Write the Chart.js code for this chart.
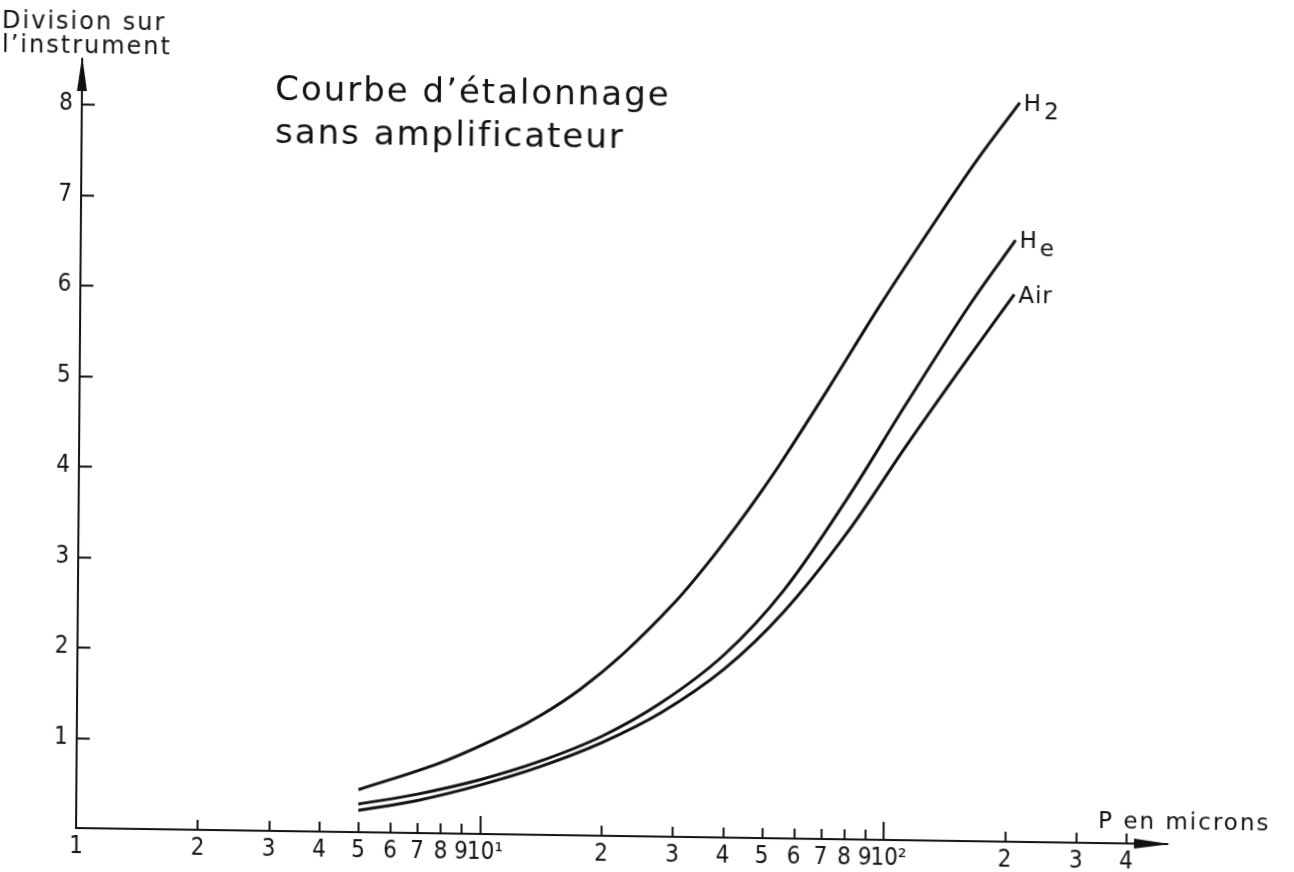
<!DOCTYPE html>
<html>
<head>
<meta charset="utf-8">
<script src="https://cdn.jsdelivr.net/npm/chart.js@4.4.1/dist/chart.umd.min.js"></script>
<style>
  html, body { margin: 0; padding: 0; background: #ffffff; }
  #wrap { width: 1294px; height: 872px; position: relative; overflow: hidden; background: #fff; }
  /* the scanned original is slightly skewed: reproduce that skew */
  #c { position: absolute; left: -20px; top: -20px;
       transform-origin: 96px 848px;
       transform: matrix(1, 0.0147, -0.008, 1, 0, 0); }
</style>
</head>
<body>
<div id="wrap"><canvas id="c" width="1334" height="912"></canvas></div>
<script>
// ---- data ----
const h2X  = [5, 7.97, 11.68, 14.09, 17.68, 22.56, 29.95, 36.3, 43.7, 48.9, 54.8, 71.4, 96.2, 129.7, 165, 210.7];
const h2Y  = [0.47, 0.78, 1.12, 1.32, 1.62, 2.02, 2.58, 3.03, 3.51, 3.82, 4.15, 4.97, 5.92, 6.82, 7.52, 8.17];
const heX  = [5, 7, 10, 14, 20, 28, 40, 56, 80, 112, 160, 207];
const heY  = [0.31, 0.43, 0.60, 0.81, 1.10, 1.48, 2.02, 2.74, 3.76, 4.83, 5.93, 6.65];
const airX = [5, 7, 10, 14, 20, 28, 40, 56, 80, 112, 160, 206];
const airY = [0.24, 0.36, 0.54, 0.75, 1.03, 1.37, 1.86, 2.50, 3.38, 4.36, 5.36, 6.05];

const seriesNames = ['H2', 'He', 'Air'];
const xTicks = [1, 2, 3, 4, 5, 6, 7, 8, 9, 10, 20, 30, 40, 50, 60, 70, 80, 90, 100, 200, 300, 400];
const xTickLabels = ['1', '2', '3', '4', '5', '6', '7', '8', '9', '\u200210\u00B9', '2', '3', '4', '5', '6', '7', '8', '9', '\u200210\u00B2', '2', '3', '4'];
const decadeTicks = [10, 100];
const yTicks = [1, 2, 3, 4, 5, 6, 7, 8];

const titleLines = ['Courbe d\u2019\u00E9talonnage', 'sans amplificateur'];
const yAxisTitle = ['Division sur', 'l\u2019instrument'];
const xAxisTitle = 'P en microns';

// ---- helpers ----
const INK = '#111111';
const OFF = 20;                    // canvas is larger than the page by OFF on each side
const SK_X = 0.008, SK_Y = 0.0147, OX = 76, OY = 828;
function place(tx, ty) {           // page position -> canvas position (undo the skew)
  const X = tx - SK_X * (OY - ty);
  const Y = ty - SK_Y * (X - OX);
  return [X + OFF, Y + OFF];
}
const toPts = (xs, ys) => xs.map((x, i) => ({ x: x, y: ys[i] }));
const tickFont = { family: "'Liberation Sans Narrow', 'DejaVu Sans Condensed', 'DejaVu Sans', sans-serif", size: 24 };

const lineDs = (label, xs, ys) => ({
  label: label,
  data: toPts(xs, ys),
  borderColor: INK,
  borderWidth: 3,
  pointRadius: 0,
  pointHoverRadius: 0,
  fill: false,
  cubicInterpolationMode: 'default',
  tension: 0.35
});

const decor = {
  id: 'decor',
  afterDraw(chart) {
    const ctx = chart.ctx;
    const { left, right, top, bottom } = chart.chartArea;
    const xs = chart.scales.x, ys = chart.scales.y;
    ctx.save();
    ctx.strokeStyle = INK;
    ctx.fillStyle = INK;
    ctx.lineWidth = 2;
    // inner tick marks on the y axis
    yTicks.forEach(v => {
      const py = Math.round(ys.getPixelForValue(v)) + 0.5;
      ctx.beginPath(); ctx.moveTo(left, py); ctx.lineTo(left + 13, py); ctx.stroke();
    });
    // inner tick marks on the x axis
    xTicks.forEach(v => {
      if (v === 1) return;
      const px = Math.round(xs.getPixelForValue(v)) + 0.5;
      const len = decadeTicks.includes(v) ? 18 : 10;
      ctx.beginPath(); ctx.moveTo(px, bottom); ctx.lineTo(px, bottom - len); ctx.stroke();
    });
    // extend x axis to the arrow and draw arrow heads
    ctx.beginPath(); ctx.moveTo(right, bottom); ctx.lineTo(right + 8, bottom); ctx.stroke();
    ctx.beginPath();
    ctx.moveTo(right + 10, bottom);
    ctx.lineTo(right - 26, bottom - 5);
    ctx.lineTo(right - 26, bottom + 5);
    ctx.closePath(); ctx.fill();
    ctx.beginPath();
    ctx.moveTo(left, top - 3);
    ctx.lineTo(left - 5, top + 32);
    ctx.lineTo(left + 5, top + 32);
    ctx.closePath(); ctx.fill();

    // title
    ctx.textBaseline = 'alphabetic';
    ctx.textAlign = 'left';
    ctx.font = "34px 'DejaVu Sans', sans-serif";
    ctx.letterSpacing = '2px';
    let p = place(275, 100); ctx.fillText(titleLines[0], p[0], p[1]);
    p = place(275, 143); ctx.fillText(titleLines[1], p[0], p[1]);

    // axis titles
    ctx.font = "24px 'DejaVu Sans', sans-serif";
    ctx.letterSpacing = '2px';
    p = place(2, 28); ctx.fillText(yAxisTitle[0], p[0], p[1]);
    p = place(2, 52); ctx.fillText(yAxisTitle[1], p[0], p[1]);
    ctx.font = "23px 'DejaVu Sans', sans-serif";
    p = place(1098, 828); ctx.fillText(xAxisTitle, p[0], p[1]);

    // curve labels at the end of each curve
    ctx.letterSpacing = '0px';
    chart.data.datasets.forEach((ds, i) => {
      const meta = chart.getDatasetMeta(i);
      const last = meta.data[meta.data.length - 1];
      const lx = last.x + 4, ly = last.y + 8;
      ctx.font = "23px 'DejaVu Sans', sans-serif";
      const name = seriesNames[i];
      if (name === 'H2' || name === 'He') {
        ctx.fillText('H', lx, ly);
        const w = ctx.measureText('H').width;
        ctx.fillText(name.charAt(1), lx + w + 3, ly + 8);
      } else {
        ctx.letterSpacing = '1px';
        ctx.fillText(name, lx, ly);
        ctx.letterSpacing = '0px';
      }
    });
    ctx.restore();
  }
};

new Chart(document.getElementById('c'), {
  type: 'line',
  data: {
    datasets: [
      lineDs('H2', h2X, h2Y),
      lineDs('He', heX, heY),
      lineDs('Air', airX, airY)
    ]
  },
  options: {
    responsive: false,
    animation: false,
    events: [],
    layout: { padding: { left: 0, right: 154, top: 59 + OFF, bottom: 0 } },
    plugins: { legend: { display: false }, tooltip: { enabled: false }, title: { display: false } },
    scales: {
      x: {
        type: 'logarithmic',
        min: 1,
        max: 485,
        afterBuildTicks: s => { s.ticks = xTicks.map(v => ({ value: v })); },
        afterFit: s => { s.height = 44 + OFF; },
        grid: { display: false, drawTicks: false },
        border: { display: true, color: INK, width: 2 },
        ticks: {
          autoSkip: false,
          maxRotation: 0,
          minRotation: 0,
          padding: 4,
          color: INK,
          font: tickFont,
          callback: (v, i) => xTickLabels[i]
        }
      },
      y: {
        type: 'linear',
        min: 0,
        max: 8.5,
        afterBuildTicks: s => { s.ticks = yTicks.map(v => ({ value: v })); },
        afterFit: s => { s.width = 76 + OFF; },
        grid: { display: false, drawTicks: false },
        border: { display: true, color: INK, width: 2 },
        ticks: {
          padding: 9,
          color: INK,
          font: tickFont,
          callback: v => String(v)
        }
      }
    }
  },
  plugins: [decor]
});
</script>
</body>
</html>
